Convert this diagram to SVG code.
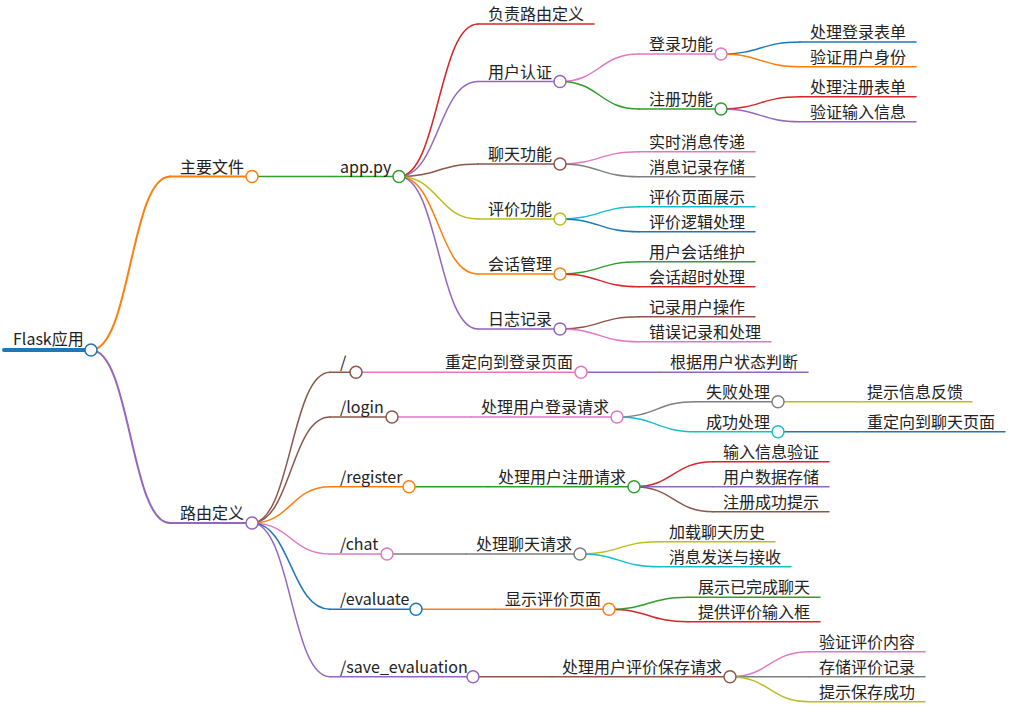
<svg xmlns="http://www.w3.org/2000/svg" width="1010" height="724" viewBox="0 0 1010 724">
<style>
text{font-family:"Noto Sans CJK SC","Noto Sans",sans-serif;font-size:16px;fill:#222}
path,line,circle{fill:none;stroke-linecap:round}
circle{fill:#fff;stroke-width:1.5}
.l{stroke-width:1.5}
.l1{stroke-width:2}
.blue{stroke:#1f77b4}.orange{stroke:#ff7f0e}.green{stroke:#2ca02c}.red{stroke:#d62728}.purple{stroke:#9467bd}
.brown{stroke:#8c564b}.pink{stroke:#e377c2}.gray{stroke:#7f7f7f}.olive{stroke:#bcbd22}.cyan{stroke:#17becf}
</style>
<rect width="1010" height="724" fill="#fff"/>
<g id="connectors">
<path class="l1 orange" d="M91,350 C130.5,350 130.5,176.5 170,176.5"/>
<path class="l1 purple" d="M91,350 C130.5,350 130.5,523 170,523"/>
<path class="l green" d="M252,176.5 L330,176.5"/>
<path class="l red" d="M399,176.5 C438.5,176.5 438.5,24 478,24"/>
<path class="l purple" d="M399,176.5 C438.5,176.5 438.5,81.5 478,81.5"/>
<path class="l brown" d="M399,176.5 C438.5,176.5 438.5,164 478,164"/>
<path class="l olive" d="M399,176.5 C438.5,176.5 438.5,219 478,219"/>
<path class="l orange" d="M399,176.5 C438.5,176.5 438.5,274 478,274"/>
<path class="l purple" d="M399,176.5 C438.5,176.5 438.5,329 478,329"/>
<path class="l pink" d="M560,81.5 C599.5,81.5 599.5,54 639,54"/>
<path class="l green" d="M560,81.5 C599.5,81.5 599.5,109 639,109"/>
<path class="l blue" d="M721,54 C760.5,54 760.5,42 800,42"/>
<path class="l orange" d="M721,54 C760.5,54 760.5,66.7 800,66.7"/>
<path class="l red" d="M721,109 C760.5,109 760.5,96.7 800,96.7"/>
<path class="l purple" d="M721,109 C760.5,109 760.5,121.7 800,121.7"/>
<path class="l pink" d="M560,164 C599.5,164 599.5,151.7 639,151.7"/>
<path class="l gray" d="M560,164 C599.5,164 599.5,176.7 639,176.7"/>
<path class="l cyan" d="M560,219 C599.5,219 599.5,206.7 639,206.7"/>
<path class="l blue" d="M560,219 C599.5,219 599.5,231.7 639,231.7"/>
<path class="l green" d="M560,274 C599.5,274 599.5,261.7 639,261.7"/>
<path class="l red" d="M560,274 C599.5,274 599.5,286.7 639,286.7"/>
<path class="l brown" d="M560,329 C599.5,329 599.5,316.7 639,316.7"/>
<path class="l pink" d="M560,329 C599.5,329 599.5,341.7 639,341.7"/>
<path class="l brown" d="M252,523 C291,523 291,372.3 330,372.3"/>
<path class="l brown" d="M252,523 C291,523 291,417 330,417"/>
<path class="l orange" d="M252,523 C291,523 291,486.7 330,486.7"/>
<path class="l pink" d="M252,523 C291,523 291,554 330,554"/>
<path class="l blue" d="M252,523 C291,523 291,609.3 330,609.3"/>
<path class="l purple" d="M252,523 C291,523 291,676.7 330,676.7"/>
<path class="l pink" d="M356,372.3 L435,372.3"/>
<path class="l purple" d="M581,372.3 L660,372.3"/>
<path class="l pink" d="M392,417 L471,417"/>
<path class="l gray" d="M617,417 C656.5,417 656.5,401.7 696,401.7"/>
<path class="l cyan" d="M617,417 C656.5,417 656.5,431.7 696,431.7"/>
<path class="l olive" d="M778,401.7 L857,401.7"/>
<path class="l blue" d="M778,431.7 L857,431.7"/>
<path class="l green" d="M409,486.7 L488,486.7"/>
<path class="l red" d="M634,486.7 C673.5,486.7 673.5,461.7 713,461.7"/>
<path class="l purple" d="M634,486.7 L713,486.7"/>
<path class="l brown" d="M634,486.7 C673.5,486.7 673.5,511.7 713,511.7"/>
<path class="l gray" d="M387,554 L466,554"/>
<path class="l olive" d="M580,554 C619.5,554 619.5,541.7 659,541.7"/>
<path class="l cyan" d="M580,554 C619.5,554 619.5,566.7 659,566.7"/>
<path class="l orange" d="M416,609.3 L495,609.3"/>
<path class="l green" d="M609,609.3 C648.5,609.3 648.5,597.3 688,597.3"/>
<path class="l red" d="M609,609.3 C648.5,609.3 648.5,621.7 688,621.7"/>
<path class="l brown" d="M473,676.7 L552,676.7"/>
<path class="l pink" d="M730,676.7 C769.5,676.7 769.5,651.7 809,651.7"/>
<path class="l gray" d="M730,676.7 L809,676.7"/>
<path class="l olive" d="M730,676.7 C769.5,676.7 769.5,701.7 809,701.7"/>
</g>
<g id="n0"><line class="blue" stroke-width="4" x1="4" y1="350" x2="91" y2="350"/><text x="13" y="345">Flask应用</text><circle class="blue" cx="91" cy="350" r="6"/></g>
<g id="n1"><line class="l1 orange" x1="170" y1="176.5" x2="252" y2="176.5"/><text x="180" y="172.5">主要文件</text><circle class="orange" cx="252" cy="176.5" r="6"/></g>
<g id="n2"><line class="l green" x1="330" y1="176.5" x2="399" y2="176.5"/><text x="340" y="172.5">app.py</text><circle class="green" cx="399" cy="176.5" r="6"/></g>
<g id="n3"><line class="l red" x1="478" y1="24" x2="594" y2="24"/><text x="488" y="20">负责路由定义</text></g>
<g id="n4"><line class="l purple" x1="478" y1="81.5" x2="560" y2="81.5"/><text x="488" y="77.5">用户认证</text><circle class="purple" cx="560" cy="81.5" r="6"/></g>
<g id="n5"><line class="l pink" x1="639" y1="54" x2="721" y2="54"/><text x="649" y="50">登录功能</text><circle class="pink" cx="721" cy="54" r="6"/></g>
<g id="n6"><line class="l blue" x1="800" y1="42" x2="916" y2="42"/><text x="810" y="38">处理登录表单</text></g>
<g id="n7"><line class="l orange" x1="800" y1="66.7" x2="916" y2="66.7"/><text x="810" y="62.7">验证用户身份</text></g>
<g id="n8"><line class="l green" x1="639" y1="109" x2="721" y2="109"/><text x="649" y="105">注册功能</text><circle class="green" cx="721" cy="109" r="6"/></g>
<g id="n9"><line class="l red" x1="800" y1="96.7" x2="916" y2="96.7"/><text x="810" y="92.7">处理注册表单</text></g>
<g id="n10"><line class="l purple" x1="800" y1="121.7" x2="916" y2="121.7"/><text x="810" y="117.7">验证输入信息</text></g>
<g id="n11"><line class="l brown" x1="478" y1="164" x2="560" y2="164"/><text x="488" y="160">聊天功能</text><circle class="brown" cx="560" cy="164" r="6"/></g>
<g id="n12"><line class="l pink" x1="639" y1="151.7" x2="755" y2="151.7"/><text x="649" y="147.7">实时消息传递</text></g>
<g id="n13"><line class="l gray" x1="639" y1="176.7" x2="755" y2="176.7"/><text x="649" y="172.7">消息记录存储</text></g>
<g id="n14"><line class="l olive" x1="478" y1="219" x2="560" y2="219"/><text x="488" y="215">评价功能</text><circle class="olive" cx="560" cy="219" r="6"/></g>
<g id="n15"><line class="l cyan" x1="639" y1="206.7" x2="755" y2="206.7"/><text x="649" y="202.7">评价页面展示</text></g>
<g id="n16"><line class="l blue" x1="639" y1="231.7" x2="755" y2="231.7"/><text x="649" y="227.7">评价逻辑处理</text></g>
<g id="n17"><line class="l orange" x1="478" y1="274" x2="560" y2="274"/><text x="488" y="270">会话管理</text><circle class="orange" cx="560" cy="274" r="6"/></g>
<g id="n18"><line class="l green" x1="639" y1="261.7" x2="755" y2="261.7"/><text x="649" y="257.7">用户会话维护</text></g>
<g id="n19"><line class="l red" x1="639" y1="286.7" x2="755" y2="286.7"/><text x="649" y="282.7">会话超时处理</text></g>
<g id="n20"><line class="l purple" x1="478" y1="329" x2="560" y2="329"/><text x="488" y="325">日志记录</text><circle class="purple" cx="560" cy="329" r="6"/></g>
<g id="n21"><line class="l brown" x1="639" y1="316.7" x2="755" y2="316.7"/><text x="649" y="312.7">记录用户操作</text></g>
<g id="n22"><line class="l pink" x1="639" y1="341.7" x2="771" y2="341.7"/><text x="649" y="337.7">错误记录和处理</text></g>
<g id="n23"><line class="l1 purple" x1="170" y1="523" x2="252" y2="523"/><text x="180" y="519">路由定义</text><circle class="purple" cx="252" cy="523" r="6"/></g>
<g id="n24"><line class="l brown" x1="330" y1="372.3" x2="356" y2="372.3"/><text x="340" y="368.3">/</text><circle class="brown" cx="356" cy="372.3" r="6"/></g>
<g id="n25"><line class="l pink" x1="435" y1="372.3" x2="581" y2="372.3"/><text x="445" y="368.3">重定向到登录页面</text><circle class="pink" cx="581" cy="372.3" r="6"/></g>
<g id="n26"><line class="l purple" x1="660" y1="372.3" x2="808" y2="372.3"/><text x="670" y="368.3">根据用户状态判断</text></g>
<g id="n27"><line class="l brown" x1="330" y1="417" x2="392" y2="417"/><text x="340" y="413">/login</text><circle class="brown" cx="392" cy="417" r="6"/></g>
<g id="n28"><line class="l pink" x1="471" y1="417" x2="617" y2="417"/><text x="481" y="413">处理用户登录请求</text><circle class="pink" cx="617" cy="417" r="6"/></g>
<g id="n29"><line class="l gray" x1="696" y1="401.7" x2="778" y2="401.7"/><text x="706" y="397.7">失败处理</text><circle class="gray" cx="778" cy="401.7" r="6"/></g>
<g id="n30"><line class="l olive" x1="857" y1="401.7" x2="972" y2="401.7"/><text x="867" y="397.7">提示信息反馈</text></g>
<g id="n31"><line class="l cyan" x1="696" y1="431.7" x2="778" y2="431.7"/><text x="706" y="427.7">成功处理</text><circle class="cyan" cx="778" cy="431.7" r="6"/></g>
<g id="n32"><line class="l blue" x1="857" y1="431.7" x2="1005" y2="431.7"/><text x="867" y="427.7">重定向到聊天页面</text></g>
<g id="n33"><line class="l orange" x1="330" y1="486.7" x2="409" y2="486.7"/><text x="340" y="482.7">/register</text><circle class="orange" cx="409" cy="486.7" r="6"/></g>
<g id="n34"><line class="l green" x1="488" y1="486.7" x2="634" y2="486.7"/><text x="498" y="482.7">处理用户注册请求</text><circle class="green" cx="634" cy="486.7" r="6"/></g>
<g id="n35"><line class="l red" x1="713" y1="461.7" x2="829" y2="461.7"/><text x="723" y="457.7">输入信息验证</text></g>
<g id="n36"><line class="l purple" x1="713" y1="486.7" x2="829" y2="486.7"/><text x="723" y="482.7">用户数据存储</text></g>
<g id="n37"><line class="l brown" x1="713" y1="511.7" x2="829" y2="511.7"/><text x="723" y="507.7">注册成功提示</text></g>
<g id="n38"><line class="l pink" x1="330" y1="554" x2="387" y2="554"/><text x="340" y="550">/chat</text><circle class="pink" cx="387" cy="554" r="6"/></g>
<g id="n39"><line class="l gray" x1="466" y1="554" x2="580" y2="554"/><text x="476" y="550">处理聊天请求</text><circle class="gray" cx="580" cy="554" r="6"/></g>
<g id="n40"><line class="l olive" x1="659" y1="541.7" x2="775" y2="541.7"/><text x="669" y="537.7">加载聊天历史</text></g>
<g id="n41"><line class="l cyan" x1="659" y1="566.7" x2="791" y2="566.7"/><text x="669" y="562.7">消息发送与接收</text></g>
<g id="n42"><line class="l blue" x1="330" y1="609.3" x2="416" y2="609.3"/><text x="340" y="605.3">/evaluate</text><circle class="blue" cx="416" cy="609.3" r="6"/></g>
<g id="n43"><line class="l orange" x1="495" y1="609.3" x2="609" y2="609.3"/><text x="505" y="605.3">显示评价页面</text><circle class="orange" cx="609" cy="609.3" r="6"/></g>
<g id="n44"><line class="l green" x1="688" y1="597.3" x2="820" y2="597.3"/><text x="698" y="593.3">展示已完成聊天</text></g>
<g id="n45"><line class="l red" x1="688" y1="621.7" x2="820" y2="621.7"/><text x="698" y="617.7">提供评价输入框</text></g>
<g id="n46"><line class="l purple" x1="330" y1="676.7" x2="473" y2="676.7"/><text x="340" y="672.7">/save_evaluation</text><circle class="purple" cx="473" cy="676.7" r="6"/></g>
<g id="n47"><line class="l brown" x1="552" y1="676.7" x2="730" y2="676.7"/><text x="562" y="672.7">处理用户评价保存请求</text><circle class="brown" cx="730" cy="676.7" r="6"/></g>
<g id="n48"><line class="l pink" x1="809" y1="651.7" x2="925" y2="651.7"/><text x="819" y="647.7">验证评价内容</text></g>
<g id="n49"><line class="l gray" x1="809" y1="676.7" x2="925" y2="676.7"/><text x="819" y="672.7">存储评价记录</text></g>
<g id="n50"><line class="l olive" x1="809" y1="701.7" x2="925" y2="701.7"/><text x="819" y="697.7">提示保存成功</text></g>
</svg>
